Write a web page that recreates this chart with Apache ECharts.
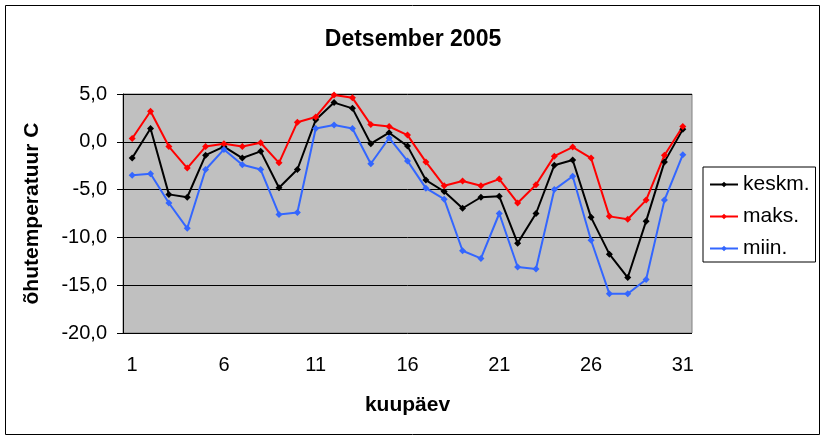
<!DOCTYPE html>
<html lang="et">
<head>
    <meta charset="utf-8">
    <title>Detsember 2005</title>
    <script src="https://cdn.jsdelivr.net/npm/echarts@6/dist/echarts.min.js"></script>
    <style>
        html, body { margin: 0; height: 100%; background: #fff; }
        #chart { width: 826px; height: 440px; }
    </style>
</head>
<body>
<div id="chart"></div>
<script>
    // päevad 1..31
    var days = ['1','2','3','4','5','6','7','8','9','10','11','12','13','14','15','16',
        '17','18','19','20','21','22','23','24','25','26','27','28','29','30','31'];
    var keskm = [-1.7, 1.4, -5.5, -5.8, -1.4, -0.5, -1.7, -1.0, -4.8, -2.9, 2.3, 4.1, 3.5, -0.2, 0.95, -0.45,
        -4.0, -5.2, -6.95, -5.8, -5.7, -10.6, -7.5, -2.45, -1.9, -7.9, -11.75, -14.2, -8.3, -2.1, 1.3];
    var maks = [0.35, 3.2, -0.5, -2.75, -0.5, -0.2, -0.5, -0.1, -2.2, 2.05, 2.6, 4.9, 4.6, 1.8, 1.6, 0.7,
        -2.1, -4.6, -4.1, -4.6, -3.9, -6.4, -4.5, -1.5, -0.55, -1.7, -7.8, -8.1, -6.1, -1.4, 1.6];
    var miin = [-3.5, -3.35, -6.4, -9.05, -2.9, -0.8, -2.4, -2.9, -7.6, -7.4, 1.4, 1.75, 1.4, -2.3, 0.4, -2.0,
        -4.85, -6.0, -11.4, -12.2, -7.5, -13.1, -13.3, -5.0, -3.6, -10.3, -15.9, -15.9, -14.4, -6.1, -1.35];

    var font = 'Liberation Sans, Arial, sans-serif';
    var chart = echarts.init(document.getElementById('chart'), null, { renderer: 'canvas' });

    function line(name, data, color) {
        return {
            name: name,
            type: 'line',
            data: data,
            symbol: 'diamond',
            symbolSize: 7,
            lineStyle: { color: color, width: 2 },
            itemStyle: { color: color },
            animation: false
        };
    }

    chart.setOption({
        backgroundColor: '#fff',
        graphic: [{
            type: 'rect',
            shape: { x: 5.5, y: 5.5, width: 814, height: 429 },
            style: { fill: 'none', stroke: '#000', lineWidth: 1 },
            silent: true
        }],
        title: {
            text: 'Detsember 2005',
            left: 'center',
            top: 23,
            textStyle: { fontFamily: font, fontSize: 23, fontWeight: 'bold', color: '#000' }
        },
        legend: {
            orient: 'vertical',
            left: 703,
            top: 167,
            padding: [7, 6, 3, 6],
            itemGap: 11,
            itemWidth: 28,
            itemHeight: 7,
            borderColor: '#000',
            borderWidth: 1,
            backgroundColor: '#fff',
            textStyle: { fontFamily: font, fontSize: 21, color: '#000' },
            data: ['keskm.', 'maks.', 'miin.']
        },
        grid: {
            left: 123, top: 94, right: 134, bottom: 107,
            show: true,
            backgroundColor: '#c0c0c0',
            borderColor: '#808080',
            borderWidth: 1
        },
        xAxis: {
            type: 'category',
            data: days,
            boundaryGap: true,
            name: 'kuupäev',
            nameLocation: 'middle',
            nameGap: 62,
            nameTextStyle: { fontFamily: font, fontSize: 21, fontWeight: 'bold', color: '#000' },
            axisLine: { lineStyle: { color: '#000', width: 1 } },
            axisTick: { interval: 0, length: 5, lineStyle: { color: '#000' } },
            axisLabel: { interval: 4, margin: 22, fontFamily: font, fontSize: 20, color: '#000' },
            splitLine: { show: false }
        },
        yAxis: {
            type: 'value',
            min: -20,
            max: 5,
            interval: 5,
            name: 'õhutemperatuur C',
            nameLocation: 'middle',
            nameRotate: 90,
            nameGap: 80,
            nameTextStyle: { fontFamily: font, fontSize: 21, fontWeight: 'bold', color: '#000' },
            axisLine: { show: true, lineStyle: { color: '#000', width: 1 } },
            axisTick: { show: true, length: 6, lineStyle: { color: '#000' } },
            axisLabel: {
                margin: 16, fontFamily: font, fontSize: 20, color: '#000',
                formatter: function (v) { return v.toFixed(1).replace('.', ','); }
            },
            splitLine: { lineStyle: { color: '#000', width: 1 } }
        },
        series: [
            line('keskm.', keskm, '#000000'),
            line('maks.', maks, '#ff0000'),
            line('miin.', miin, '#3366ff')
        ]
    });
</script>
</body>
</html>
